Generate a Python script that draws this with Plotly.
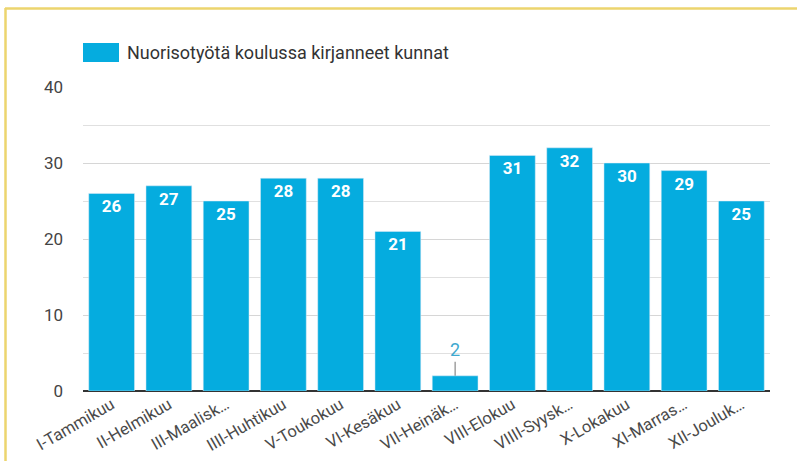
import plotly.graph_objects as go

categories = ["I-Tammikuu", "II-Helmikuu", "III-Maalisk…", "IIII-Huhtikuu", "V-Toukokuu",
              "VI-Kesäkuu", "VII-Heinäk…", "VIII-Elokuu", "VIIII-Syysk…", "X-Lokakuu",
              "XI-Marras…", "XII-Jouluk…"]
values = [26, 27, 25, 28, 28, 21, 2, 31, 32, 30, 29, 25]
series_name = "Nuorisotyötä koulussa kirjanneet kunnat"
y_ticks = [0, 10, 20, 30, 40]

BAR = "#05acdf"
W, H = 797, 461
L, R, T, B = 83, 27, 87, 70
pw, ph = W - L - R, H - T - B

def px_x(p):
    return (p - L) / pw

def px_y(p):
    return (H - B - p) / ph

inside = [v >= 10 for v in values]
fig = go.Figure()
fig.add_trace(go.Bar(
    x=categories, y=values, name=series_name, marker_color=BAR,
    text=[str(v) if ok else "" for v, ok in zip(values, inside)],
    textposition="inside", insidetextanchor="end",
    textfont=dict(family="Roboto", size=17, color="white", weight="bold"),
    showlegend=False, cliponaxis=False,
))

annotations = []
for c, v, ok in zip(categories, values, inside):
    if not ok:
        annotations.append(dict(x=c, y=v, xref="x", yref="y", text=str(v), showarrow=True,
                                arrowhead=0, arrowwidth=1.2, arrowcolor="#8a8a8a", ax=0, ay=-26,
                                font=dict(family="Roboto", size=18, color="#3ea9cf")))
# legend drawn as swatch + label
annotations.append(dict(x=px_x(125), y=px_y(52), xref="paper", yref="paper", text=series_name,
                        showarrow=False, xanchor="left", yanchor="middle",
                        font=dict(family="Roboto", size=18, color="#333333")))

shapes = [
    dict(type="rect", xref="paper", yref="paper", x0=px_x(83), x1=px_x(119), y0=px_y(62), y1=px_y(43),
         fillcolor=BAR, line=dict(width=0)),
    dict(type="line", xref="paper", yref="paper", x0=px_x(5), x1=px_x(800), y0=px_y(8.5), y1=px_y(8.5),
         line=dict(color="#ecd56e", width=2.5)),
    dict(type="line", xref="paper", yref="paper", x0=px_x(5.5), x1=px_x(5.5), y0=px_y(8), y1=px_y(465),
         line=dict(color="#ecd56e", width=2.5)),
]

fig.update_layout(
    width=W, height=H, margin=dict(l=L, r=R, t=T, b=B, autoexpand=False),
    paper_bgcolor="white", plot_bgcolor="white",
    bargap=0.2, annotations=annotations, shapes=shapes,
    font=dict(family="Roboto", color="#444444"),
)
fig.update_xaxes(tickangle=-30, tickfont=dict(family="Roboto", size=16.5, color="#4a4a4a"),
                 showgrid=False, showline=False, ticks="", automargin=False)
fig.update_yaxes(range=[0, 40], tickvals=y_ticks, ticktext=[str(t) for t in y_ticks],
                 showgrid=True, gridcolor="#d6d6d6", gridwidth=1,
                 minor=dict(dtick=5, showgrid=True, gridcolor="#e0e0e0"),
                 zeroline=True, zerolinecolor="#333333", zerolinewidth=2,
                 tickfont=dict(family="Roboto", size=17, color="#444444"),
                 ticklabelstandoff=19, showline=False, automargin=False)

fig.write_html("out.html", config={"displayModeBar": False},
               post_script="document.body.style.margin='0';")
